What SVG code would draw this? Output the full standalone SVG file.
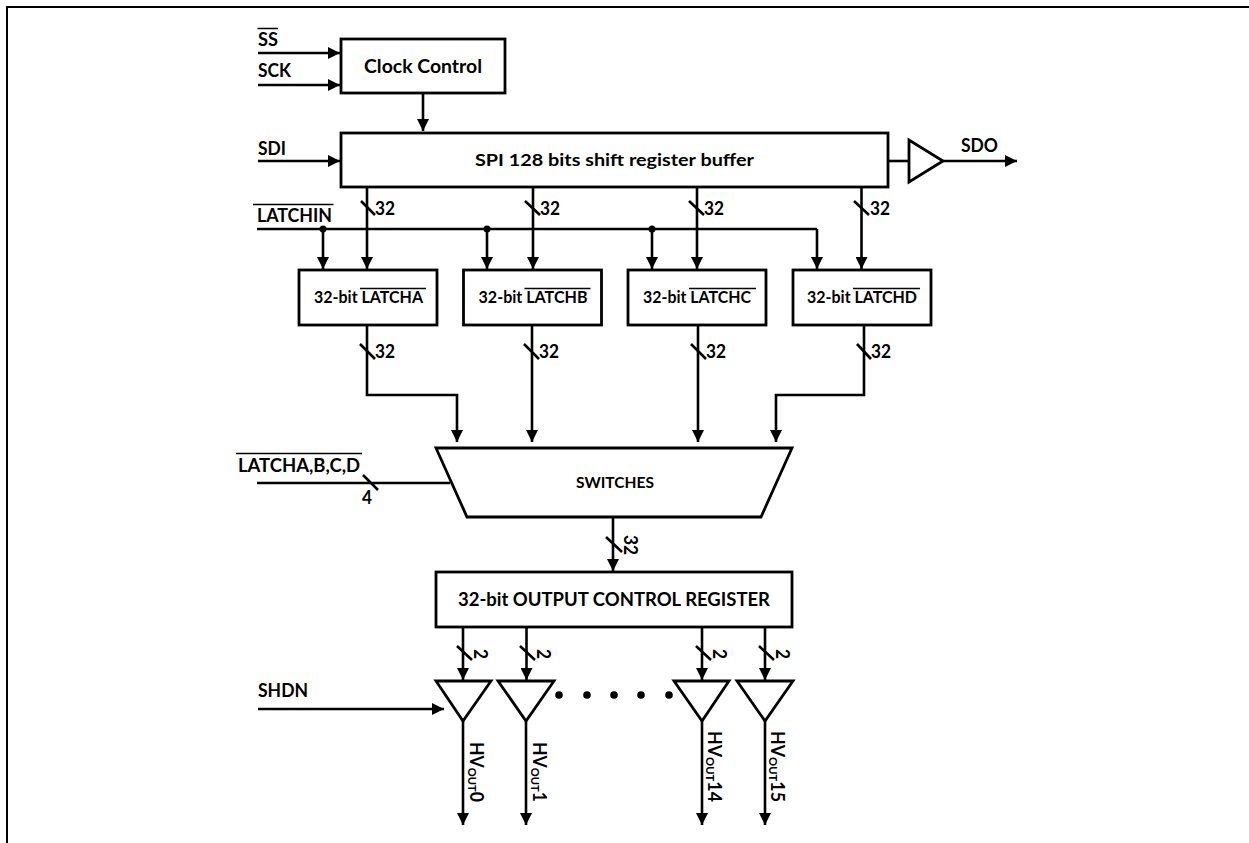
<svg xmlns="http://www.w3.org/2000/svg" width="1249" height="843" viewBox="0 0 1249 843">
<style>
text{font-family:Lato,"Liberation Sans",sans-serif;font-weight:700;fill:#000;font-size:19px}
.s{font-size:17px}
.m{font-size:15.500px}
.b{fill:#fff;stroke:#000;stroke-width:2.800;stroke-linejoin:miter}
.c{fill:none;stroke:#000;stroke-width:2.600}
.a{marker-end:url(#ah)}
.o{stroke:#000;stroke-width:1.500;fill:none}
</style>
<defs>
<marker id="ah" markerUnits="userSpaceOnUse" markerWidth="12" markerHeight="12" refX="10" refY="5" orient="auto" viewBox="0 0 10 10"><path d="M0 0L10 5L0 10z" fill="#000"/></marker>
</defs>
<rect width="1249" height="843" fill="#fff"/>
<path d="M7 843V7H1249" fill="none" stroke="#000" stroke-width="2"/>
<g id="connectors">
<path class="c a" d="M258 53H340"/>
<path class="c a" d="M258 85H340"/>
<path class="c a" d="M258 161H340"/>
<path class="c a" d="M423 93V131"/>
<path class="c" d="M888 161H909"/>
<path class="c a" d="M943 161H1017"/>
<path class="c" d="M257 229H817"/>
<path class="c a" d="M817 229V269"/>
<path class="c a" d="M323 229V269"/>
<path class="c a" d="M487 229V269"/>
<path class="c a" d="M652 229V269"/>
<circle cx="323" cy="229" r="3.500"/><circle cx="487" cy="229" r="3.500"/><circle cx="652" cy="229" r="3.500"/>
<path class="c a" d="M367 187V269"/>
<path class="c a" d="M533 187V269"/>
<path class="c a" d="M697 187V269"/>
<path class="c a" d="M861.500 187V269"/>
<path class="c" d="M361 201L375 215M525 201L540 215M689 201L704 215M854 201L869 215"/>
<path class="c a" d="M367 325V395H457V442"/>
<path class="c a" d="M532 325V442"/>
<path class="c a" d="M698 325V442"/>
<path class="c a" d="M864 325V395H776V442"/>
<path class="c" d="M360 344L375 359M524 344L539 359M691 344L706 359M857 344L871 359"/>
<path class="c" d="M257 483H450M363 475L378 490"/>
<path class="c a" d="M613 517V571"/>
<path class="c" d="M606 537L622 552"/>
<path class="c a" d="M463 627V680"/>
<path class="c a" d="M526.500 627V680"/>
<path class="c a" d="M702 627V680"/>
<path class="c a" d="M765 627V680"/>
<path class="c" d="M457 646L472 660M520 646L535 660M696 646L711 660M759 646L774 660"/>
<path class="c a" d="M258 709H444"/>
<path class="c a" d="M463 721V825"/>
<path class="c a" d="M526 721V825"/>
<path class="c a" d="M702 721V825"/>
<path class="c a" d="M765 721V825"/>
</g>
<g id="labels">
<text x="258" y="46" textLength="20" lengthAdjust="spacingAndGlyphs">SS</text><path class="o" d="M257.500 28.500H278"/>
<text x="258" y="77" textLength="33" lengthAdjust="spacingAndGlyphs">SCK</text>
<text x="258" y="155" textLength="28" lengthAdjust="spacingAndGlyphs">SDI</text>
<text x="961" y="152" textLength="37" lengthAdjust="spacingAndGlyphs">SDO</text>
<text x="257" y="222" textLength="75" lengthAdjust="spacingAndGlyphs">LATCHIN</text><path class="o" d="M253 204.500H333.500"/>
<text x="238" y="472" textLength="122" lengthAdjust="spacingAndGlyphs">LATCHA,B,C,D</text><path class="o" d="M236 453.500H362"/>
<text x="362" y="504" textLength="10" lengthAdjust="spacingAndGlyphs">4</text>
<text x="258" y="697" textLength="50" lengthAdjust="spacingAndGlyphs">SHDN</text>
<text x="375" y="215" textLength="20" lengthAdjust="spacingAndGlyphs">32</text>
<text x="540" y="215" textLength="20" lengthAdjust="spacingAndGlyphs">32</text>
<text x="704" y="215" textLength="20" lengthAdjust="spacingAndGlyphs">32</text>
<text x="870" y="215" textLength="20" lengthAdjust="spacingAndGlyphs">32</text>
<text x="375" y="358" textLength="20" lengthAdjust="spacingAndGlyphs">32</text>
<text x="539" y="358" textLength="20" lengthAdjust="spacingAndGlyphs">32</text>
<text x="706" y="358" textLength="20" lengthAdjust="spacingAndGlyphs">32</text>
<text x="871" y="358" textLength="20" lengthAdjust="spacingAndGlyphs">32</text>
<text transform="translate(624 535) rotate(90)" textLength="20" lengthAdjust="spacingAndGlyphs">32</text>
<text transform="translate(474 649) rotate(90)" textLength="10" lengthAdjust="spacingAndGlyphs">2</text>
<text transform="translate(537 649) rotate(90)" textLength="10" lengthAdjust="spacingAndGlyphs">2</text>
<text transform="translate(713 649) rotate(90)" textLength="10" lengthAdjust="spacingAndGlyphs">2</text>
<text transform="translate(776 649) rotate(90)" textLength="10" lengthAdjust="spacingAndGlyphs">2</text>
<text transform="translate(470 742) rotate(90)" textLength="60" lengthAdjust="spacingAndGlyphs">HV<tspan font-size="12" dy="2">OUT</tspan><tspan dy="-2">0</tspan></text>
<text transform="translate(533 742) rotate(90)" textLength="60" lengthAdjust="spacingAndGlyphs">HV<tspan font-size="12" dy="2">OUT</tspan><tspan dy="-2">1</tspan></text>
<text transform="translate(708 731) rotate(90)" textLength="71" lengthAdjust="spacingAndGlyphs">HV<tspan font-size="12" dy="2">OUT</tspan><tspan dy="-2">14</tspan></text>
<text transform="translate(771 731) rotate(90)" textLength="71" lengthAdjust="spacingAndGlyphs">HV<tspan font-size="12" dy="2">OUT</tspan><tspan dy="-2">15</tspan></text>
<circle cx="559" cy="695" r="3.800"/><circle cx="587" cy="695" r="3.800"/><circle cx="614" cy="695" r="3.800"/><circle cx="641" cy="695" r="3.800"/><circle cx="669" cy="695" r="3.800"/>
</g>
<g id="clock-control"><rect class="b" x="341" y="39" width="164" height="54"/><text x="364" y="73" textLength="118" lengthAdjust="spacingAndGlyphs">Clock Control</text></g>
<g id="spi-buffer"><rect class="b" x="341" y="133" width="547" height="54"/><text class="s" x="475" y="166" textLength="279" lengthAdjust="spacingAndGlyphs">SPI 128 bits shift register buffer</text></g>
<g id="sdo-buffer"><path class="b" d="M909 140V182L943 161z"/></g>
<g id="latch-a"><rect class="b" x="299" y="270" width="138" height="55"/><text class="s" x="314" y="303" textLength="109" lengthAdjust="spacingAndGlyphs">32-bit LATCHA</text><path class="o" d="M360 288.500H426"/></g>
<g id="latch-b"><rect class="b" x="463.500" y="270" width="138" height="55"/><text class="s" x="478.500" y="303" textLength="109" lengthAdjust="spacingAndGlyphs">32-bit LATCHB</text><path class="o" d="M524.500 288.500H590.500"/></g>
<g id="latch-c"><rect class="b" x="628" y="270" width="138" height="55"/><text class="s" x="643" y="303" textLength="108" lengthAdjust="spacingAndGlyphs">32-bit LATCHC</text><path class="o" d="M689 288.500H756"/></g>
<g id="latch-d"><rect class="b" x="793" y="270" width="138" height="55"/><text class="s" x="807" y="303" textLength="110" lengthAdjust="spacingAndGlyphs">32-bit LATCHD</text><path class="o" d="M853 288.500H920"/></g>
<g id="switches"><path class="b" d="M436 448H792L761 517H467z"/><text class="m" x="576" y="488" textLength="78" lengthAdjust="spacingAndGlyphs">SWITCHES</text></g>
<g id="output-register"><rect class="b" x="436" y="572" width="356" height="55"/><text x="458" y="606" textLength="312" lengthAdjust="spacingAndGlyphs">32-bit OUTPUT CONTROL REGISTER</text></g>
<g id="driver-0"><path class="b" d="M436 681H491L463 721z"/></g>
<g id="driver-1"><path class="b" d="M498 681H554L526 721z"/></g>
<g id="driver-14"><path class="b" d="M674 681H729L702 721z"/></g>
<g id="driver-15"><path class="b" d="M737 681H793L765 721z"/></g>
</svg>
